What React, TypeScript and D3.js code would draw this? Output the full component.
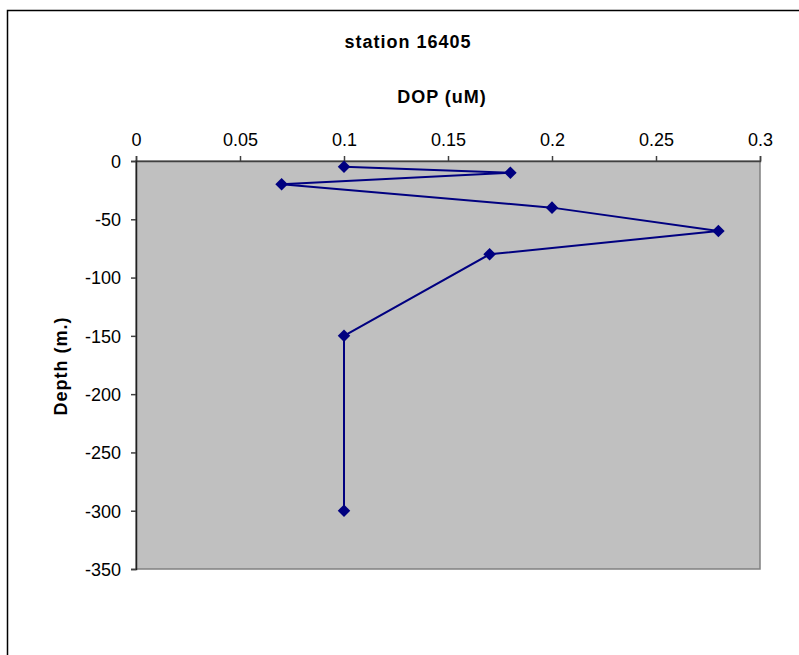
import { useEffect, useRef } from 'react'
import * as d3 from 'd3'

// ─── Data ────────────────────────────────────────────────────────────────────

const depths = [-5, -10, -20, -40, -60, -80, -150, -300]
const dop = [0.1, 0.18, 0.07, 0.2, 0.28, 0.17, 0.1, 0.1]
const xTicks = [0, 0.05, 0.1, 0.15, 0.2, 0.25, 0.3]
const yTicks = [0, -50, -100, -150, -200, -250, -300, -350]

const colors = {
  plotBg: '#c0c0c0',
  series: '#000080',
  axis: '#404040',
  plotEdge: '#808080',
  text: '#000000',
}

const FONT = '"Liberation Sans", Arial, sans-serif'

// ─── Component ───────────────────────────────────────────────────────────────

export default function App() {
  const ref = useRef<SVGSVGElement>(null)

  useEffect(() => {
    if (!ref.current) return
    render(ref.current)
  }, [])

  return (
    <svg
      ref={ref}
      width={799}
      height={655}
      style={{ position: 'absolute', left: 0, top: 0, display: 'block', background: '#fff' }}
    />
  )
}

function render(el: SVGSVGElement) {
  const W = 799
  const H = 655
  const plot = { left: 136, top: 161, right: 760, bottom: 569 }

  const svg = d3.select(el).attr('viewBox', `0 0 ${W} ${H}`).style('font-family', FONT)
  svg.selectAll('*').remove()

  // chart frame (cut off by the window on the right and bottom)
  svg.append('path')
    .attr('d', `M7.5,${H + 5} V10.5 H${W + 5}`)
    .attr('fill', 'none')
    .attr('stroke', '#000')
    .attr('stroke-width', 1.5)

  const x = d3.scaleLinear().domain([0, 0.3]).range([plot.left, plot.right])
  const y = d3.scaleLinear().domain([-350, 0]).range([plot.bottom, plot.top])

  // plot area
  svg.append('rect')
    .attr('x', plot.left)
    .attr('y', plot.top)
    .attr('width', plot.right - plot.left)
    .attr('height', plot.bottom - plot.top)
    .attr('fill', colors.plotBg)
    .attr('stroke', colors.plotEdge)
    .attr('stroke-width', 1.5)

  // top x axis
  svg.append('g')
    .attr('transform', `translate(0,${plot.top})`)
    .call(d3.axisTop(x).tickValues(xTicks).tickSize(5).tickPadding(10).tickFormat((v) => `${v}`))
    .call((sel) => sel.select('.domain').attr('stroke', colors.axis).attr('stroke-width', 1.5))
    .call((sel) => sel.selectAll('line').attr('stroke', colors.axis).attr('stroke-width', 1.5))
    .call((sel) =>
      sel.selectAll('text')
        .attr('font-size', 18)
        .attr('font-family', FONT)
        .attr('fill', colors.text)
    )

  // left y axis
  svg.append('g')
    .attr('transform', `translate(${plot.left},0)`)
    .call(d3.axisLeft(y).tickValues(yTicks).tickSize(5).tickPadding(10).tickFormat((v) => `${v}`))
    .call((sel) => sel.select('.domain').attr('stroke', '#202020').attr('stroke-width', 1.5))
    .call((sel) => sel.selectAll('line').attr('stroke', colors.axis).attr('stroke-width', 1.5))
    .call((sel) =>
      sel.selectAll('text')
        .attr('font-size', 18)
        .attr('font-family', FONT)
        .attr('fill', colors.text)
        .attr('dy', '0.35em')
    )

  const pts = dop.map((v, i) => ({ v, d: depths[i] }))

  const line = d3.line<{ v: number; d: number }>()
    .x((p) => x(p.v))
    .y((p) => y(p.d))

  svg.append('path')
    .datum(pts)
    .attr('d', line)
    .attr('fill', 'none')
    .attr('stroke', colors.series)
    .attr('stroke-width', 2)

  const diamond = d3.symbol().type(d3.symbolDiamond2).size(100)
  svg.selectAll('.marker')
    .data(pts)
    .join('path')
    .attr('class', 'marker')
    .attr('transform', (p) => `translate(${x(p.v)},${y(p.d)})`)
    .attr('d', diamond)
    .attr('fill', colors.series)

  // titles
  svg.append('text')
    .attr('x', 408)
    .attr('y', 48)
    .attr('text-anchor', 'middle')
    .attr('font-size', 18)
    .attr('font-weight', 'bold')
    .attr('letter-spacing', 1)
    .text('station 16405')

  svg.append('text')
    .attr('x', 442)
    .attr('y', 103)
    .attr('text-anchor', 'middle')
    .attr('font-size', 18)
    .attr('font-weight', 'bold')
    .attr('letter-spacing', 1)
    .text('DOP (uM)')

  svg.append('text')
    .attr('transform', `translate(67,366) rotate(-90)`)
    .attr('text-anchor', 'middle')
    .attr('font-size', 18)
    .attr('font-weight', 'bold')
    .attr('letter-spacing', 1)
    .text('Depth (m.)')
}
